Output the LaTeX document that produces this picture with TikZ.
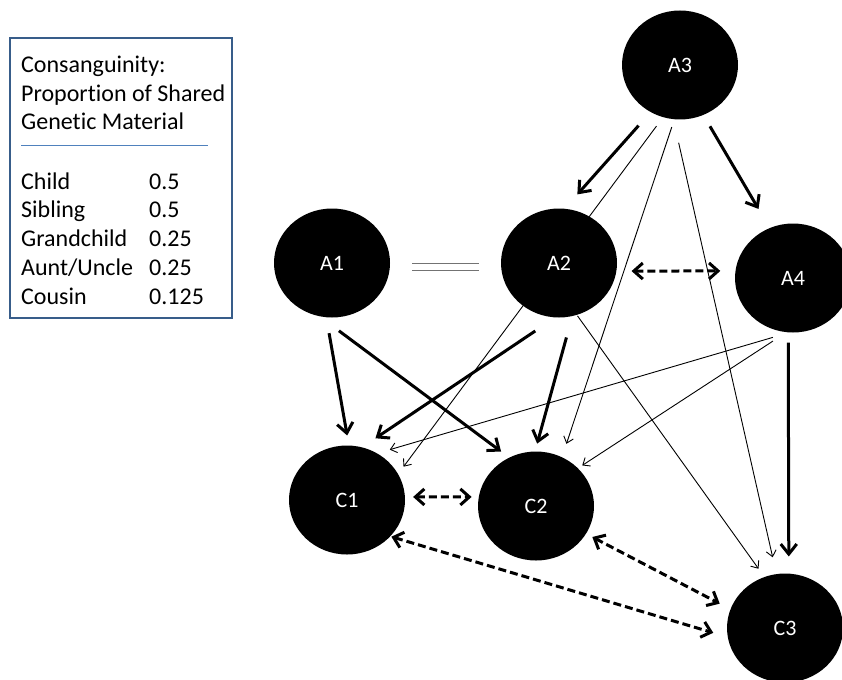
\documentclass[tikz,border=0pt]{standalone}
\usepackage{fontspec}
\setmainfont[Ligatures=NoCommon]{Carlito}
\usetikzlibrary{arrows.meta,backgrounds,shapes.geometric}

\definecolor{keyblue}{RGB}{56,93,138}
\definecolor{ruleblue}{RGB}{79,129,189}

\begin{document}
\begin{tikzpicture}[x=1pt,y=-1pt]
\tikzstyle{person} = [ellipse, fill=black, text=white, minimum width=116pt,
minimum height=109pt, inner sep=0pt, font=\fontsize{22}{26}\selectfont]
\tikzstyle{strong} = [draw, line width=3pt, -{Straight Barb[length=10pt,width=16pt]}]
\tikzstyle{weak} = [draw, line width=0.9pt, -{Straight Barb[length=6pt,width=10pt]}]
\tikzstyle{mutual} = [draw, line width=3pt, dash pattern=on 8pt off 4pt,
{Straight Barb[length=9pt,width=16pt]}-{Straight Barb[length=9pt,width=16pt]}]
\tikzstyle{spouse} = [draw=black!55, double=white, double distance=6pt, line width=1pt]
\tikzstyle{keytext} = [anchor=base west, inner sep=0pt, text height=18pt,
text depth=6pt, font=\fontsize{24}{29}\selectfont]
\tikzstyle{keyname} = [keytext, text width=128pt, align=left]
\tikzstyle{keyval} = [keytext]

\useasboundingbox (0,0) rectangle (842,679);

% legend
\draw[keyblue, line width=2pt] (10,38) rectangle (232,318);
\node[keytext] (title1) at (21,73) {Consanguinity:};
\node[keytext] (title2) at (21,102) {Proportion of Shared};
\node[keytext] (title3) at (21,130) {Genetic Material};
\draw[ruleblue, line width=0.8pt] (21,145) -- (208,145);
\matrix (key) [anchor=north west, inner sep=0pt, row sep=4.7pt] at (21,171)
{
\node [keyname] (child) {Child}; & \node [keyval] {0.5}; \\
\node [keyname] (sibling) {Sibling}; & \node [keyval] {0.5}; \\
\node [keyname] (grand) {Grandchild}; & \node [keyval] {0.25}; \\
\node [keyname] (aunt) {Aunt/Uncle}; & \node [keyval] {0.25}; \\
\node [keyname] (cousin) {Cousin}; & \node [keyval] {0.125}; \\
};

% family
\node [person] (A3) at (680,65) {A3};
\node [person] (A1) at (332,263) {A1};
\node [person] (A2) at (559,263) {A2};
\node [person] (A4) at (793,278) {A4};
\node [person] (C1) at (347,500) {C1};
\node [person] (C2) at (536,506) {C2};
\node [person] (C3) at (785,628) {C3};

\begin{scope}[on background layer]
% parent to child
\path (A3.238) edge [strong, shorten <=18pt, shorten >=19pt] (A2.84);
\path (A3.295) edge [strong, shorten <=13pt, shorten >=22pt] (A4.115);
\path (A1.264) edge [strong, shorten <=16pt, shorten >=10pt] (C1.88);
\path (A1.257) edge [strong, shorten <=24pt, shorten >=10pt] (C2.119);
\path (A2.266) edge [strong, shorten <=24pt, shorten >=16pt] (C1.74);
\path (A2.284) edge [strong, shorten <=22pt, shorten >=8pt] (C2.91);
\path (A4.265) edge [strong, shorten <=10pt, shorten >=17pt] (C3.86);
% more distant
\path (A3.252) edge [weak, shorten <=11pt, shorten >=9pt] (C1.27);
\path (A3.264) edge [weak, shorten <=8pt, shorten >=14pt] (C2.62);
\path (A3.263) edge [weak, shorten <=24pt, shorten >=17pt] (C3.99);
\path (A2.289) edge [weak, shorten <=1pt, shorten >=10pt] (C3.112);
\path (A4.266) edge [weak, shorten <=17pt, shorten >=13pt] (C1.57);
\path (A4.263) edge [weak, shorten <=16pt, shorten >=5pt] (C2.42);
% siblings and cousins
\path (A2.352) edge [mutual, shorten <=15pt, shorten >=15pt] (A4.173);
\path (C1.3) edge [mutual, shorten <=8pt, shorten >=7pt] (C2.171);
\path (C2.331) edge [mutual, shorten <=7pt, shorten >=12pt] (C3.161);
\path (C1.320) edge [mutual, shorten <=1pt, shorten >=15pt] (C3.189);
% marriage
\path (A1.-4) edge [spouse, shorten <=22pt, shorten >=22pt] (A2.184);
\end{scope}

\end{tikzpicture}
\end{document}
